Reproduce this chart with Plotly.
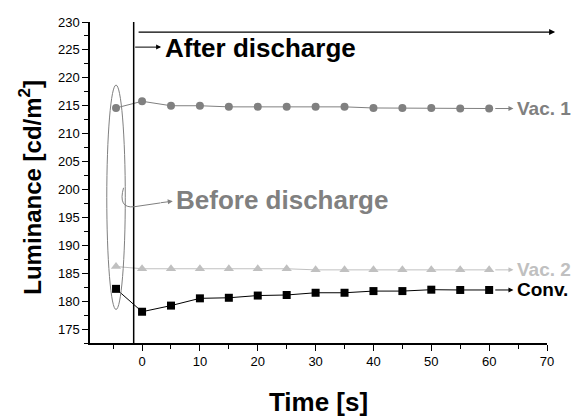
import plotly.graph_objects as go

time = [-4.5, 0, 5, 10, 15, 20, 25, 30, 35, 40, 45, 50, 55, 60]
vac1 = [214.6, 215.8, 215.0, 215.0, 214.8, 214.8, 214.8, 214.8, 214.8, 214.6, 214.6, 214.6, 214.5, 214.5]
vac2 = [186.2, 185.8, 185.8, 185.8, 185.8, 185.8, 185.8, 185.6, 185.6, 185.6, 185.6, 185.6, 185.6, 185.6]
conv = [182.2, 178.1, 179.2, 180.5, 180.6, 181.0, 181.1, 181.5, 181.5, 181.8, 181.8, 182.05, 182.0, 182.0]
series_names = ["Vac. 1", "Vac. 2", "Conv."]
colors = ["#808080", "#c0c0c0", "#000000"]
symbols = ["circle", "triangle-up", "square"]
x_ticks = [0, 10, 20, 30, 40, 50, 60, 70]
y_ticks = [175, 180, 185, 190, 195, 200, 205, 210, 215, 220, 225, 230]

FONT = "Liberation Sans, Arial, sans-serif"

fig = go.Figure()
for name, vals, col, sym in zip(series_names, [vac1, vac2, conv], colors, symbols):
    fig.add_trace(go.Scatter(
        x=time, y=vals, mode="lines+markers", name=name,
        line=dict(color=col, width=1),
        marker=dict(color=col, symbol=sym, size=9 if sym == "triangle-up" else 8),
        showlegend=False, cliponaxis=False))

ann = []
# series labels with arrows
for name, vals, col in zip(series_names, [vac1, vac2, conv], colors):
    yv = vals[-1]
    ann.append(dict(x=64.2, y=yv, ax=60.8, ay=yv, xref="x", yref="y", axref="x", ayref="y",
                    text=" ", showarrow=True, arrowhead=2, arrowsize=1, arrowwidth=1,
                    arrowcolor=col, standoff=0, startstandoff=0, font=dict(size=1)))
    ann.append(dict(x=64.5, y=yv, xref="x", yref="y", text="<b>%s</b>" % name,
                    showarrow=False, xanchor="left", yanchor="middle",
                    font=dict(family=FONT, size=19, color=col)))

# top long arrow
ann.append(dict(x=71.4, y=228.2, ax=-0.86, ay=228.2, xref="x", yref="y", axref="x", ayref="y",
                text=" ", showarrow=True, arrowhead=2, arrowsize=1, arrowwidth=1.2,
                arrowcolor="black", standoff=0, startstandoff=0, font=dict(size=1)))
# After discharge
ann.append(dict(x=3.3, y=225.5, ax=-1.45, ay=225.5, xref="x", yref="y", axref="x", ayref="y",
                text=" ", showarrow=True, arrowhead=2, arrowsize=1, arrowwidth=1,
                arrowcolor="black", standoff=0, startstandoff=0, font=dict(size=1)))
ann.append(dict(x=3.6, y=225.4, xref="x", yref="y", text="<b>After discharge</b>",
                showarrow=False, xanchor="left", yanchor="middle",
                font=dict(family=FONT, size=26, color="black")))
# Before discharge
ann.append(dict(x=5.3, y=197.9, ax=3.0, ay=197.6, xref="x", yref="y", axref="x", ayref="y",
                text=" ", showarrow=True, arrowhead=2, arrowsize=1, arrowwidth=1,
                arrowcolor="#808080", standoff=0, startstandoff=0, font=dict(size=1)))
ann.append(dict(x=5.6, y=198.1, xref="x", yref="y", text="<b>Before discharge</b>",
                showarrow=False, xanchor="left", yanchor="middle",
                font=dict(family=FONT, size=26, color="#808080")))
# y-axis title
ann.append(dict(x=-0.131, y=0.484, xref="paper", yref="paper", textangle=-90,
                text="<b>Luminance [cd/m<sup>2</sup>]</b>", showarrow=False,
                xanchor="center", yanchor="middle",
                font=dict(family=FONT, size=24, color="black")))

shapes = [
    dict(type="line", x0=-1.45, x1=-1.45, y0=172.5, y1=230, xref="x", yref="y",
         line=dict(color="black", width=1.5)),
    dict(type="circle", x0=-6.1, x1=-2.9, y0=178.5, y1=218.7, xref="x", yref="y",
         line=dict(color="#808080", width=1)),
    dict(type="path", xref="x", yref="y",
         path="M -3.2,200.3 Q -4.2,196.6 -1.4,196.9 L 3.2,197.6",
         line=dict(color="#808080", width=1)),
]

fig.update_layout(
    width=573, height=411,
    margin=dict(l=82, r=34, t=7, b=65),
    paper_bgcolor="white", plot_bgcolor="white",
    font=dict(family=FONT, color="black"),
    annotations=ann, shapes=shapes,
    xaxis=dict(range=[-9, 70], tickvals=x_ticks, ticks="outside", ticklen=6, tickwidth=1.2,
               tickcolor="black", showline=True, linecolor="black", linewidth=1.5,
               showgrid=False, zeroline=False, tickfont=dict(size=13, family=FONT),
               ticklabeloverflow="allow",
               minor=dict(tickvals=[-5, 5, 15, 25, 35, 45, 55, 65], ticks="outside", ticklen=4,
                          tickcolor="black", tickwidth=1.2),
               title=dict(text="<b>Time [s]</b>", font=dict(size=26, family=FONT), standoff=24)),
    yaxis=dict(range=[172.5, 230], tickvals=y_ticks, ticks="outside", ticklen=6, tickwidth=1.2,
               tickcolor="black", showline=True, linecolor="black", linewidth=1.5,
               showgrid=False, zeroline=False, tickfont=dict(size=13, family=FONT),
               ticklabeloverflow="allow",
               minor=dict(dtick=2.5, tick0=172.5, ticks="outside", ticklen=4,
                          tickcolor="black", tickwidth=1.2)),
)

fig.write_html("out.html")
